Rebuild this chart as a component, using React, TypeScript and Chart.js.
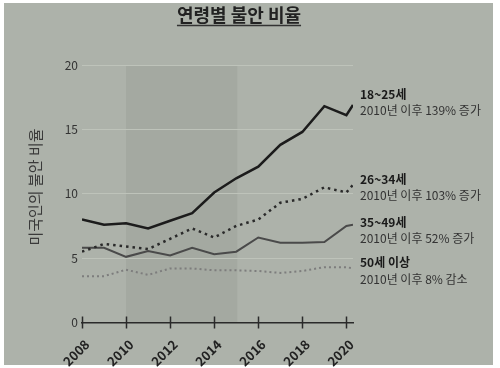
import React, { useEffect, useRef } from "react";
import { Chart, registerables } from "chart.js";

Chart.register(...registerables);

const years = [2008, 2009, 2010, 2011, 2012, 2013, 2014, 2015, 2016, 2017, 2018, 2019, 2020, 2020.3];
const age18to25 = [8.0, 7.6, 7.7, 7.3, 7.9, 8.5, 10.1, 11.2, 12.1, 13.8, 14.8, 16.8, 16.1, 16.9];
const age26to34 = [5.5, 6.1, 5.9, 5.7, 6.5, 7.3, 6.6, 7.5, 8.0, 9.3, 9.6, 10.5, 10.1, 10.7];
const age35to49 = [5.8, 5.8, 5.1, 5.55, 5.2, 5.8, 5.3, 5.5, 6.6, 6.2, 6.2, 6.25, 7.5, 7.6];
const age50plus = [3.6, 3.6, 4.1, 3.7, 4.2, 4.2, 4.05, 4.05, 4.0, 3.85, 4.0, 4.3, 4.3, 4.2];

const xTickYears = [2008, 2010, 2012, 2014, 2016, 2018, 2020];
const yTickValues = [0, 5, 10, 15, 20];
const shadedRange = [2010, 2015.05];

const title = "연령별 불안 비율";
const yTitle = "미국인의 불안 비율";
const seriesNames = ["18~25세", "26~34세", "35~49세", "50세 이상"];
const seriesNotes = ["2010년 이후 139% 증가", "2010년 이후 103% 증가", "2010년 이후 52% 증가", "2010년 이후 8% 감소"];

const FONT = "'Noto Sans CJK KR', 'Noto Sans', sans-serif";

const toPoints = (vals: number[]) => vals.map((v, i) => ({ x: years[i], y: v }));

export default function App() {
  const ref = useRef<HTMLCanvasElement | null>(null);

  useEffect(() => {
    if (!ref.current) return;
    const labelY = [
      [94, 110],
      [179, 195],
      [222, 238],
      [262, 279],
    ];
    const plugin = {
      id: "custom",
      beforeDraw(chart: any) {
        const { ctx, chartArea, scales } = chart;
        const x0 = scales.x.getPixelForValue(shadedRange[0]);
        const x1 = scales.x.getPixelForValue(shadedRange[1]);
        ctx.save();
        ctx.fillStyle = "#a4a9a1";
        ctx.fillRect(x0, chartArea.top, x1 - x0, chartArea.bottom - chartArea.top);
        ctx.restore();
      },
      afterDraw(chart: any) {
        const { ctx, chartArea, scales } = chart;
        ctx.save();
        // crossing tick marks on x axis
        ctx.strokeStyle = "#2a2a2a";
        ctx.lineWidth = 1.5;
        for (const t of xTickYears) {
          const px = Math.round(scales.x.getPixelForValue(t)) + 0.5;
          ctx.beginPath();
          ctx.moveTo(px, chartArea.bottom - 6);
          ctx.lineTo(px, chartArea.bottom + 6);
          ctx.stroke();
        }
        // title
        ctx.fillStyle = "#222";
        ctx.font = `bold 18px ${FONT}`;
        ctx.textAlign = "center";
        ctx.textBaseline = "middle";
        ctx.fillText(title, 239, 15);
        const w = ctx.measureText(title).width;
        ctx.strokeStyle = "#333";
        ctx.lineWidth = 1.5;
        ctx.beginPath();
        ctx.moveTo(239 - w / 2, 25.5);
        ctx.lineTo(239 + w / 2, 25.5);
        ctx.stroke();
        // y title
        ctx.save();
        ctx.translate(35, 187);
        ctx.rotate(-Math.PI / 2);
        ctx.font = `15px ${FONT}`;
        ctx.fillStyle = "#3a3a3a";
        ctx.fillText(yTitle, 0, 0);
        ctx.restore();
        // annotations
        ctx.textAlign = "left";
        for (let i = 0; i < seriesNames.length; i++) {
          ctx.font = `bold 12px ${FONT}`;
          ctx.fillStyle = "#1a1a1a";
          ctx.fillText(seriesNames[i], 360, labelY[i][0]);
          ctx.font = `12px ${FONT}`;
          ctx.fillStyle = "#333";
          ctx.fillText(seriesNotes[i], 360, labelY[i][1]);
        }
        ctx.restore();
      },
    };

    const chart = new Chart(ref.current, {
      type: "line",
      data: {
        datasets: [
          {
            data: toPoints(age18to25),
            borderColor: "#1c1c1c",
            borderWidth: 2.5,
            pointRadius: 0,
          },
          {
            data: toPoints(age26to34),
            borderColor: "#2a2a2a",
            borderWidth: 2.5,
            borderDash: [2.5, 4],
            pointRadius: 0,
          },
          {
            data: toPoints(age35to49),
            borderColor: "#4a4a4a",
            borderWidth: 2,
            pointRadius: 0,
          },
          {
            data: toPoints(age50plus),
            borderColor: "#7d7d7d",
            borderWidth: 2,
            borderDash: [2, 3],
            pointRadius: 0,
          },
        ],
      },
      options: {
        animation: false,
        responsive: false,
        maintainAspectRatio: false,
        layout: { padding: { left: 0, right: 147, top: 65, bottom: 0 } },
        plugins: { legend: { display: false }, tooltip: { enabled: false }, title: { display: false } },
        scales: {
          x: {
            type: "linear",
            min: 2008,
            max: 2020.3,
            afterBuildTicks: (s: any) => {
              s.ticks = xTickYears.map((v) => ({ value: v }));
            },
            afterFit: (s: any) => {
              s.height = 45.5;
            },
            grid: { display: false, drawTicks: false },
            border: { display: true, color: "#2a2a2a", width: 1.5 },
            ticks: {
              minRotation: 45,
              maxRotation: 45,
              padding: 14,
              labelOffset: 5,
              color: "#222",
              font: { family: FONT, size: 13, weight: "bold" },
              callback: (v: any) => String(v),
            },
          },
          y: {
            min: 0,
            max: 20,
            afterBuildTicks: (s: any) => {
              s.ticks = yTickValues.map((v) => ({ value: v }));
            },
            afterFit: (s: any) => {
              s.width = 82;
            },
            grid: { color: "#bec3ba", lineWidth: 1, drawTicks: false },
            border: { display: false },
            ticks: {
              padding: 4,
              color: "#333",
              font: { family: FONT, size: 12 },
            },
          },
        },
      },
      plugins: [plugin],
    } as any);
    return () => chart.destroy();
  }, []);

  return (
    <div style={{ position: "fixed", left: 0, top: 0, width: 500, height: 368, background: "#fff" }}>
      <div
        style={{ position: "absolute", left: 4, top: 3, width: 489, height: 362, background: "#adb2aa" }}
      />
      <canvas ref={ref} width={500} height={368} style={{ position: "absolute", left: 0, top: 0 }} />
    </div>
  );
}
